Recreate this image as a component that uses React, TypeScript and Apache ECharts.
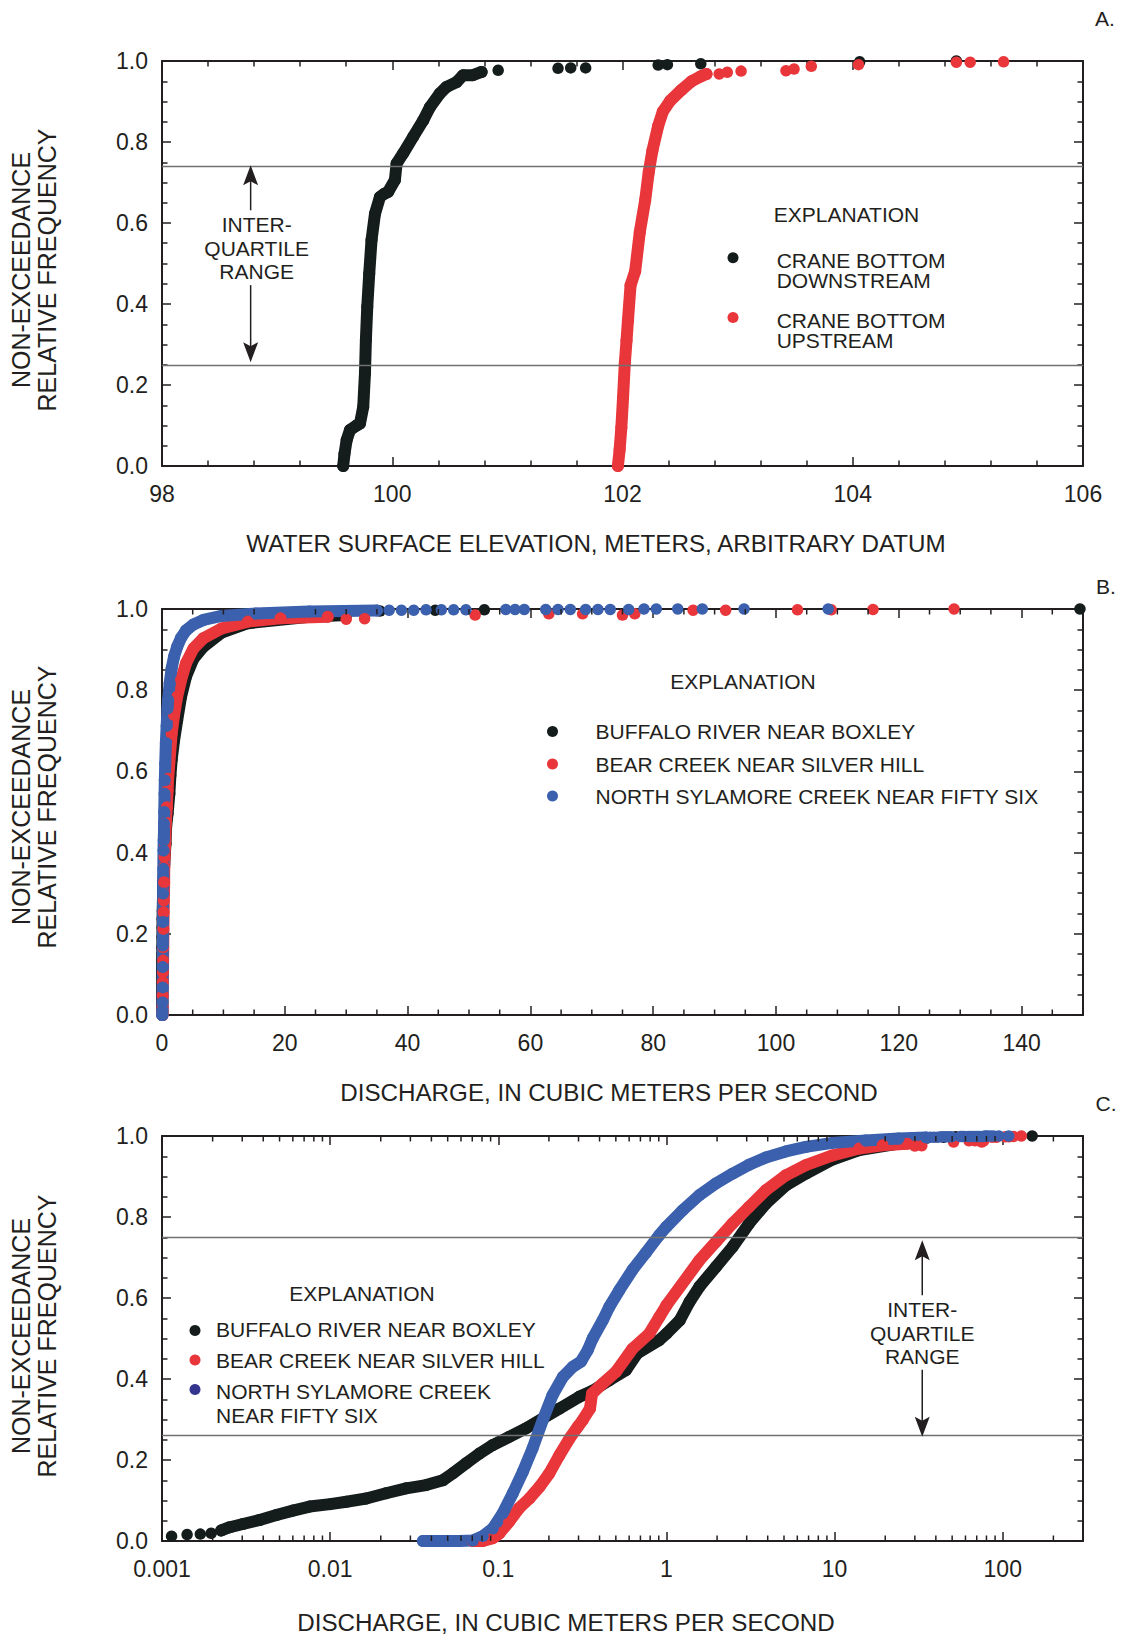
import React, { useEffect, useRef } from 'react';
import * as echarts from 'echarts';

const FONT = '"Liberation Sans", Arial, Helvetica, sans-serif';
const INK = '#231f20';
const C_BLACK = '#141c1c';
const C_RED = '#e8363b';
const C_BLUE = '#3b60ad';
const C_NAVY = '#34358f';
const IQR_GRAY = '#707070';

// ---------- Panel A: water-surface elevation ----------
const A_X_TICKS = [98, 100, 102, 104, 106];
const A_IQR = [0.745, 0.254];
const A_DOWN_DENSE = [
  [99.574, 0.0], [99.585, 0.03], [99.604, 0.064], [99.633, 0.089], [99.69, 0.1], [99.72, 0.105],
  [99.748, 0.146], [99.763, 0.229], [99.771, 0.311], [99.783, 0.393], [99.8, 0.475], [99.82, 0.558],
  [99.85, 0.623], [99.893, 0.664], [99.93, 0.672], [99.965, 0.677], [100.023, 0.706], [100.038, 0.747],
  [100.095, 0.772], [100.182, 0.813], [100.27, 0.854], [100.327, 0.886], [100.414, 0.92], [100.472, 0.936],
  [100.559, 0.948], [100.616, 0.965], [100.7, 0.965], [100.776, 0.973],
];
const A_DOWN_TAIL = [
  [100.92, 0.977], [101.44, 0.982], [101.55, 0.983], [101.68, 0.983], [102.31, 0.99], [102.39, 0.991],
  [102.68, 0.993], [104.06, 0.998], [104.9, 1.0],
];
const A_UP_DENSE = [
  [101.96, 0.0], [101.975, 0.04], [101.99, 0.095], [102.005, 0.17], [102.02, 0.253], [102.035, 0.31],
  [102.047, 0.358], [102.07, 0.446], [102.11, 0.481], [102.15, 0.577], [102.197, 0.656], [102.228, 0.726],
  [102.26, 0.779], [102.31, 0.84], [102.35, 0.875], [102.415, 0.902], [102.51, 0.928], [102.6, 0.95],
  [102.68, 0.962], [102.73, 0.968],
];
const A_UP_TAIL = [
  [102.84, 0.968], [102.91, 0.972], [103.03, 0.975], [103.42, 0.976], [103.49, 0.98], [103.64, 0.987],
  [104.05, 0.991], [104.9, 0.997], [105.02, 0.997], [105.31, 0.998],
];

// ---------- Panels B and C: discharge ----------
const B_X_LABELS = [0, 20, 40, 60, 80, 100, 120, 140];
const B_MINOR_X = [5, 10, 15, 25, 30, 35, 45, 50, 55, 65, 70, 75, 85, 90, 95, 105, 110, 115, 125, 130, 135, 145];
const C_X_LABELS = ['0.001', '0.01', '0.1', '1', '10', '100'];
const C_MINOR_X = [
  0.002, 0.003, 0.004, 0.005, 0.006, 0.007, 0.008, 0.009,
  0.02, 0.03, 0.04, 0.05, 0.06, 0.07, 0.08, 0.09,
  0.2, 0.3, 0.4, 0.5, 0.6, 0.7, 0.8, 0.9,
  2, 3, 4, 5, 6, 7, 8, 9,
  20, 30, 40, 50, 60, 70, 80, 90,
  200,
];
const C_IQR = [0.75, 0.255];

const BOXLEY_HEAD = [[0.00114, 0.012], [0.00141, 0.016], [0.00169, 0.017], [0.00196, 0.019]];
const BOXLEY_DENSE = [
  [0.00225, 0.026], [0.00253, 0.034], [0.00303, 0.042], [0.00381, 0.052], [0.00479, 0.064], [0.00601, 0.075],
  [0.00755, 0.085], [0.01, 0.091], [0.0125, 0.097], [0.0164, 0.105], [0.0215, 0.118], [0.0283, 0.13],
  [0.0372, 0.138], [0.0468, 0.15], [0.0536, 0.167], [0.0644, 0.192], [0.0773, 0.216], [0.0927, 0.237],
  [0.116, 0.257], [0.146, 0.278], [0.184, 0.303], [0.231, 0.327], [0.303, 0.356], [0.364, 0.371],
  [0.457, 0.397], [0.574, 0.422], [0.67, 0.463], [0.906, 0.496], [1.0, 0.512], [1.2, 0.545],
  [1.37, 0.59], [1.57, 0.628], [1.97, 0.677], [2.47, 0.726], [3.1, 0.784], [3.9, 0.833],
  [5.13, 0.878], [6.74, 0.907], [9.71, 0.942], [14, 0.965], [24, 0.981], [30, 0.985],
];
const BOXLEY_TAIL = [[35.5, 0.995], [44.5, 0.997], [52.5, 0.998], [149.5, 1.0]];

const BEAR_DENSE = [
  [0.0705, 0.0], [0.0808, 0.0], [0.0927, 0.007], [0.1016, 0.019], [0.116, 0.048], [0.133, 0.081],
  [0.153, 0.105], [0.176, 0.134], [0.201, 0.167], [0.231, 0.212], [0.265, 0.253], [0.297, 0.282],
  [0.318, 0.299], [0.351, 0.327], [0.361, 0.364], [0.418, 0.389], [0.501, 0.418], [0.629, 0.475],
  [0.79, 0.512], [0.906, 0.553], [1.0, 0.582], [1.57, 0.693], [1.97, 0.739], [2.47, 0.784],
  [3.1, 0.825], [3.9, 0.866], [5.13, 0.903], [6.74, 0.928], [9.71, 0.952], [14, 0.969],
  [19.3, 0.977], [27, 0.981],
];
const BEAR_TAIL = [
  [30, 0.975], [33, 0.976], [51, 0.985], [63, 0.988], [68.5, 0.988], [75, 0.985], [77, 0.988],
  [86.5, 0.997], [91.8, 0.997], [103.5, 0.998], [109, 0.998], [115.8, 0.999], [129, 1.0],
];

const SYLAMORE_DENSE = [
  [0.0356, 0.0], [0.0468, 0.0], [0.0587, 0.0], [0.0705, 0.001], [0.0808, 0.012], [0.0927, 0.031],
  [0.106, 0.068], [0.122, 0.118], [0.14, 0.171], [0.16, 0.229], [0.184, 0.299], [0.21, 0.36],
  [0.242, 0.405], [0.277, 0.43], [0.31, 0.443], [0.34, 0.471], [0.364, 0.5], [0.418, 0.545],
  [0.457, 0.578], [0.524, 0.619], [0.629, 0.67], [0.755, 0.712], [0.906, 0.755], [1.0, 0.776],
  [1.25, 0.817], [1.57, 0.854], [1.97, 0.883], [2.47, 0.907], [3.1, 0.929], [3.9, 0.947],
  [5.13, 0.962], [6.74, 0.973], [9.71, 0.983], [15.3, 0.989], [24, 0.994], [35, 0.996],
];
const SYLAMORE_TAIL = [
  [37, 0.997], [39, 0.997], [41, 0.997], [43, 0.998], [45.5, 0.998], [47.5, 0.998], [49.5, 0.998],
  [56, 0.999], [57.5, 0.999], [59, 0.999], [62.5, 0.999], [64.5, 0.999], [66.5, 0.999], [69, 0.999],
  [71, 0.999], [73, 0.999], [76, 0.999], [78.5, 1.0], [80.5, 1.0], [84, 1.0], [88, 1.0], [94.8, 1.0],
  [108.5, 1.0],
];

// ---------- layout ----------
const GRIDS = [
  { left: 162, top: 61, width: 921, height: 405 },
  { left: 162, top: 609, width: 921, height: 406 },
  { left: 162, top: 1136, width: 921, height: 405 },
];

const TICK_FONT = 23;
const MARK = 12;
const axisLine = { show: true, onZero: false, lineStyle: { color: INK, width: 2 } };
const majorTick = { show: true, inside: true, length: 9, lineStyle: { color: INK, width: 1.5 } };

function yAxes(gi: number) {
  const base: any = {
    type: 'value', gridIndex: gi, min: 0, max: 1, interval: 0.2,
    axisLine, axisTick: majorTick,
    minorTick: { show: true, splitNumber: 4, length: 5.5, lineStyle: { color: INK, width: 1.5 } },
    splitLine: { show: false }, minorSplitLine: { show: false },
  };
  return [
    { ...base, position: 'left', axisLabel: { show: true, formatter: (v: number) => v.toFixed(1), color: INK, fontSize: TICK_FONT, fontFamily: FONT, margin: 14 } },
    { ...base, position: 'right', axisLabel: { show: false } },
  ];
}

function xAxes(gi: number, spec: any, labelFmt: (v: number) => string) {
  const base: any = {
    gridIndex: gi, axisLine, axisTick: majorTick, splitLine: { show: false }, minorSplitLine: { show: false },
    ...spec,
  };
  return [
    { ...base, position: 'bottom', axisLabel: { show: true, formatter: labelFmt, color: INK, fontSize: TICK_FONT, fontFamily: FONT, margin: 16, showMinLabel: true, showMaxLabel: true, hideOverlap: false } },
    { ...base, position: 'top', axisLabel: { show: false } },
  ];
}

function dense(name: string, data: number[][], color: string, ax: number, z: number) {
  return {
    type: 'line', name, xAxisIndex: ax, yAxisIndex: ax, data, z,
    symbol: 'circle', symbolSize: MARK, showSymbol: true, showAllSymbol: true, clip: false, silent: true,
    lineStyle: { color, width: MARK, cap: 'round', join: 'round' }, itemStyle: { color },
    emphasis: { disabled: true },
  };
}
function dots(name: string, data: number[][], color: string, ax: number, z: number) {
  return {
    type: 'scatter', name, xAxisIndex: ax, yAxisIndex: ax, data, z,
    symbol: 'circle', symbolSize: MARK - 0.5, clip: false, silent: true, itemStyle: { color, opacity: 1 },
    emphasis: { disabled: true },
  };
}
function iqr(ax: number, levels: number[]) {
  return {
    type: 'line', xAxisIndex: ax, yAxisIndex: ax, data: [], z: 1, silent: true,
    markLine: {
      silent: true, symbol: 'none', label: { show: false }, animation: false,
      lineStyle: { color: IQR_GRAY, width: 1.3, type: 'solid' },
      data: levels.map((v) => ({ yAxis: v })),
    },
  };
}
function minorTicks(ax: number, values: number[]) {
  return {
    type: 'custom', xAxisIndex: ax, yAxisIndex: ax, silent: true, clip: false, z: 5,
    data: values.map((v) => [v, 0]),
    encode: { x: 0, y: 1 },
    renderItem: (_p: any, api: any) => {
      const v = api.value(0);
      const b = api.coord([v, 0]);
      const t = api.coord([v, 1]);
      const st = { stroke: INK, lineWidth: 1.5 };
      return {
        type: 'group',
        children: [
          { type: 'line', shape: { x1: b[0], y1: b[1], x2: b[0], y2: b[1] - 5.5 }, style: st },
          { type: 'line', shape: { x1: t[0], y1: t[1], x2: t[0], y2: t[1] + 5.5 }, style: st },
        ],
      };
    },
  };
}

function buildOption(): any {
  const xAxis = [
    ...xAxes(0, { type: 'value', min: A_X_TICKS[0], max: A_X_TICKS[A_X_TICKS.length - 1], interval: 2,
      minorTick: { show: true, splitNumber: 5, length: 5.5, lineStyle: { color: INK, width: 1.5 } } },
      (v: number) => (A_X_TICKS.indexOf(Math.round(v)) >= 0 ? String(Math.round(v)) : '')),
    ...xAxes(1, { type: 'value', min: 0, max: 150, interval: 20, minorTick: { show: false } },
      (v: number) => (B_X_LABELS.indexOf(v) >= 0 ? String(v) : '')),
    ...xAxes(2, { type: 'log', logBase: 10, min: 0.001, max: 300, minorTick: { show: false } },
      (v: number) => {
        const l = Math.log10(v);
        const r = Math.round(l);
        if (Math.abs(l - r) > 1e-6) return '';
        return C_X_LABELS[r + 3] ?? '';
      }),
  ];
  const yAxis = [...yAxes(0), ...yAxes(1), ...yAxes(2)];
  const series = [
    iqr(0, A_IQR),
    dense('CRANE BOTTOM DOWNSTREAM', A_DOWN_DENSE, C_BLACK, 0, 3),
    dots('CRANE BOTTOM DOWNSTREAM', A_DOWN_TAIL, C_BLACK, 0, 3),
    dense('CRANE BOTTOM UPSTREAM', A_UP_DENSE, C_RED, 0, 4),
    dots('CRANE BOTTOM UPSTREAM', A_UP_TAIL, C_RED, 0, 4),

    minorTicks(2, B_MINOR_X),
    dots('BUFFALO RIVER NEAR BOXLEY', BOXLEY_HEAD, C_BLACK, 2, 3),
    dense('BUFFALO RIVER NEAR BOXLEY', BOXLEY_DENSE, C_BLACK, 2, 3),
    dots('BUFFALO RIVER NEAR BOXLEY', BOXLEY_TAIL, C_BLACK, 2, 3),
    dense('BEAR CREEK NEAR SILVER HILL', BEAR_DENSE, C_RED, 2, 4),
    dots('BEAR CREEK NEAR SILVER HILL', BEAR_TAIL, C_RED, 2, 4),
    dense('NORTH SYLAMORE CREEK NEAR FIFTY SIX', SYLAMORE_DENSE, C_BLUE, 2, 4),
    dots('NORTH SYLAMORE CREEK NEAR FIFTY SIX', SYLAMORE_TAIL, C_BLUE, 2, 4),

    iqr(4, C_IQR),
    minorTicks(4, C_MINOR_X),
    dots('BUFFALO RIVER NEAR BOXLEY', BOXLEY_HEAD, C_BLACK, 4, 3),
    dense('BUFFALO RIVER NEAR BOXLEY', BOXLEY_DENSE, C_BLACK, 4, 3),
    dots('BUFFALO RIVER NEAR BOXLEY', BOXLEY_TAIL, C_BLACK, 4, 3),
    dense('BEAR CREEK NEAR SILVER HILL', BEAR_DENSE, C_RED, 4, 4),
    dots('BEAR CREEK NEAR SILVER HILL', BEAR_TAIL, C_RED, 4, 4),
    dense('NORTH SYLAMORE CREEK NEAR FIFTY SIX', SYLAMORE_DENSE, C_BLUE, 4, 4),
    dots('NORTH SYLAMORE CREEK NEAR FIFTY SIX', SYLAMORE_TAIL, C_BLUE, 4, 4),
  ];
  return {
    animation: false,
    backgroundColor: '#ffffff',
    textStyle: { fontFamily: FONT, color: INK },
    grid: GRIDS.map((g) => ({ ...g, containLabel: false, outerBoundsMode: 'none' })),
    xAxis,
    yAxis,
    series,
  };
}

function buildGraphics(chart: any) {
  const els: any[] = [];
  const txt = (text: string, x: number, y: number, extra: any = {}) => ({
    type: 'text', x, y, z: 100, silent: true,
    style: { text, fill: INK, fontFamily: FONT, fontSize: 21, align: 'left', verticalAlign: 'middle', ...extra },
  });
  const dot = (cx: number, cy: number, color: string) => ({
    type: 'circle', z: 100, silent: true, shape: { cx, cy, r: 5.5 }, style: { fill: color },
  });
  const head = (x: number, y: number, up: boolean) => {
    const s = up ? 1 : -1;
    return {
      type: 'polygon', z: 100, silent: true,
      shape: { points: [[x, y], [x + 7.5, y + s * 20], [x, y + s * 16], [x - 7.5, y + s * 20]] },
      style: { fill: INK },
    };
  };
  const vline = (x: number, y1: number, y2: number) => ({
    type: 'line', z: 100, silent: true, shape: { x1: x, y1, x2: x, y2 }, style: { stroke: INK, lineWidth: 1.5 },
  });
  const px = (ax: number, x: number, y: number) => chart.convertToPixel({ xAxisIndex: ax, yAxisIndex: ax }, [x, y]);

  // axis titles
  const TITLE = 24.2;
  els.push(txt('WATER SURFACE ELEVATION, METERS, ARBITRARY DATUM', 596, 543.5, { align: 'center', fontSize: TITLE }));
  els.push(txt('DISCHARGE, IN CUBIC METERS PER SECOND', 609, 1092.5, { align: 'center', fontSize: TITLE }));
  els.push(txt('DISCHARGE, IN CUBIC METERS PER SECOND', 566, 1622, { align: 'center', fontSize: TITLE }));
  const yCenters = [270, 807, 1336];
  yCenters.forEach((cy) => {
    els.push({
      type: 'text', x: 34, y: cy, rotation: Math.PI / 2, z: 100, silent: true,
      style: { text: 'NON-EXCEEDANCE\nRELATIVE FREQUENCY', fill: INK, fontFamily: FONT, fontSize: 25, align: 'center', verticalAlign: 'middle', lineHeight: 26 },
    });
  });
  // panel letters
  els.push(txt('A.', 1105, 18, { align: 'center' }));
  els.push(txt('B.', 1106, 586, { align: 'center' }));
  els.push(txt('C.', 1106, 1103, { align: 'center' }));

  // legend A
  els.push(txt('EXPLANATION', 846.5, 214, { align: 'center' }));
  els.push(dot(733, 257.7, C_BLACK));
  els.push(txt('CRANE BOTTOM\nDOWNSTREAM', 776.7, 250, { verticalAlign: 'top', lineHeight: 20 }));
  els.push(dot(733, 317.4, C_RED));
  els.push(txt('CRANE BOTTOM\nUPSTREAM', 776.7, 310, { verticalAlign: 'top', lineHeight: 20 }));

  // legend B
  els.push(txt('EXPLANATION', 743, 681, { align: 'center' }));
  els.push(dot(552.5, 731.5, C_BLACK));
  els.push(txt('BUFFALO RIVER NEAR BOXLEY', 595.5, 731.5));
  els.push(dot(552.5, 764, C_RED));
  els.push(txt('BEAR CREEK NEAR SILVER HILL', 595.5, 764));
  els.push(dot(552.5, 796, C_BLUE));
  els.push(txt('NORTH SYLAMORE CREEK NEAR FIFTY SIX', 595.5, 796));

  // legend C
  els.push(txt('EXPLANATION', 362, 1293.5, { align: 'center' }));
  els.push(dot(195, 1330.5, C_BLACK));
  els.push(txt('BUFFALO RIVER NEAR BOXLEY', 216, 1329.5));
  els.push(dot(195, 1360, C_RED));
  els.push(txt('BEAR CREEK NEAR SILVER HILL', 216, 1360));
  els.push(dot(195, 1389.5, C_NAVY));
  els.push(txt('NORTH SYLAMORE CREEK\nNEAR FIFTY SIX', 216, 1380, { verticalAlign: 'top', lineHeight: 23.5 }));

  // IQR annotation A
  {
    const [x, top] = px(0, 98.77, A_IQR[0]);
    const [, bot] = px(0, 98.77, A_IQR[1]);
    els.push(head(x, top + 1, true));
    els.push(vline(x, top + 14, top + 46));
    els.push(txt('INTER-\nQUARTILE\nRANGE', x + 6, top + 84, { align: 'center', lineHeight: 23.5 }));
    els.push(vline(x, bot - 78, bot - 14));
    els.push(head(x, bot - 1, false));
  }
  // IQR annotation C
  {
    const [x, top] = px(4, 33.2, C_IQR[0]);
    const [, bot] = px(4, 33.2, C_IQR[1]);
    els.push(head(x, top + 3, true));
    els.push(vline(x, top + 16, top + 58));
    els.push(txt('INTER-\nQUARTILE\nRANGE', x, top + 96, { align: 'center', lineHeight: 23.5 }));
    els.push(vline(x, bot - 68, bot - 14));
    els.push(head(x, bot - 1, false));
  }
  return els;
}

export default function App() {
  const ref = useRef<HTMLDivElement>(null);
  useEffect(() => {
    document.body.style.margin = '0';
    const chart = echarts.init(ref.current as HTMLDivElement, null, { renderer: 'svg' });
    chart.setOption(buildOption());
    chart.setOption({ graphic: buildGraphics(chart) });
    return () => chart.dispose();
  }, []);
  return <div ref={ref} style={{ width: 1125, height: 1636 }} />;
}
